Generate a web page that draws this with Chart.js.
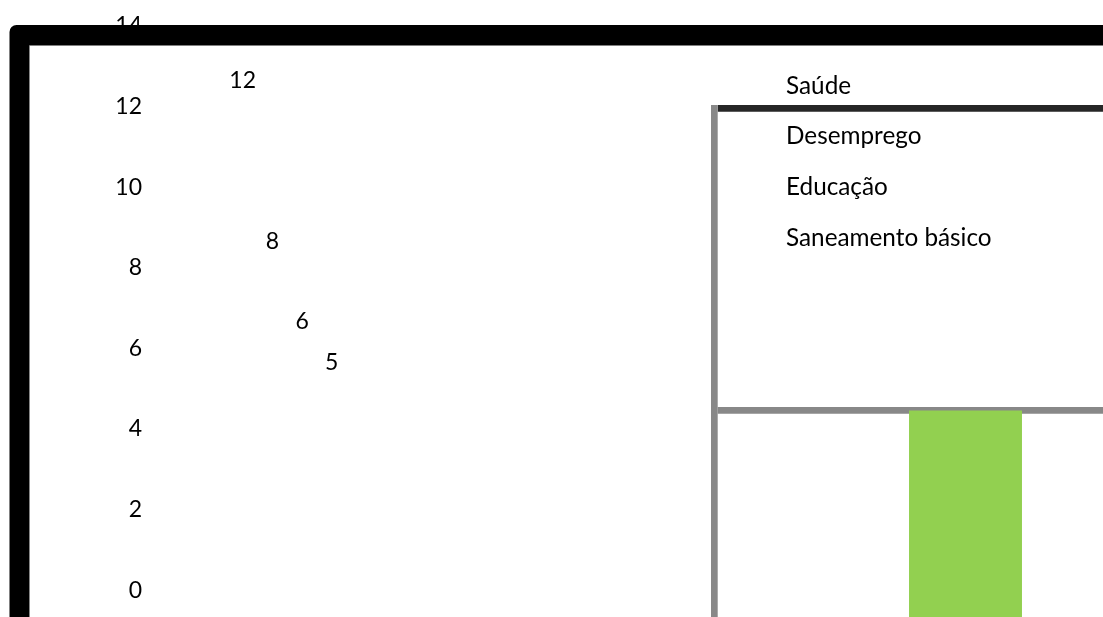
<!DOCTYPE html>
<html>
<head>
<meta charset="utf-8">
<script src="https://cdn.jsdelivr.net/npm/chart.js@4"></script>
<style>
    html, body { margin: 0; padding: 0; background: #fff; overflow: hidden; width: 1103px; height: 617px; }
    #main { position: absolute; left: 0; top: 0; }
    #side { position: absolute; left: 700px; top: 95px; }
</style>
</head>
<body>
<canvas id="main" width="1103" height="617"></canvas>
<canvas id="side" width="620" height="640"></canvas>
<script>
// data
const series = ['Saúde', 'Desemprego', 'Educação', 'Saneamento básico']
const values = [12, 8, 6, 5]
const yTicks = [0, 2, 4, 6, 8, 10, 12, 14]
const sideCategory = ['']
const sideValues = [1]

const FONT = 'Lato, "Open Sans", sans-serif'

// value labels above the (invisible) columns
const valueLabels = {
    id: 'valueLabels',
    afterDatasetsDraw(chart) {
        const ctx = chart.ctx
        ctx.save()
        ctx.font = '23px ' + FONT
        ctx.fillStyle = '#000'
        ctx.textAlign = 'center'
        ctx.textBaseline = 'alphabetic'
        chart.data.datasets.forEach((ds, i) => {
            chart.getDatasetMeta(i).data.forEach((bar, j) => {
                ctx.fillText(ds.data[j], bar.x, bar.y - 19)
            })
        })
        ctx.restore()
    }
}

// plain text legend, no swatches
const textLegend = {
    id: 'textLegend',
    afterDraw(chart) {
        const ctx = chart.ctx
        ctx.save()
        ctx.font = '24.3px ' + FONT
        ctx.fillStyle = '#000'
        ctx.textAlign = 'left'
        ctx.textBaseline = 'alphabetic'
        chart.data.datasets.forEach((ds, i) => {
            ctx.fillText(ds.label, 786, 93.5 + i * 50.8)
        })
        ctx.restore()
    }
}

// thick black rounded frame, drawn last so it covers the "14"
const frame = {
    id: 'frame',
    afterDraw(chart) {
        const ctx = chart.ctx
        ctx.save()
        ctx.beginPath()
        ctx.roundRect(9.5, 25, 1200, 700, 7)
        ctx.rect(29.5, 45.5, 1160, 660)
        ctx.fillStyle = '#000'
        ctx.fill('evenodd')
        ctx.strokeStyle = '#888'
        ctx.lineWidth = 1
        ctx.beginPath()
        ctx.moveTo(29.5, 45.5)
        ctx.lineTo(29.5, 617)
        ctx.stroke()
        ctx.restore()
    }
}

new Chart(document.getElementById('main'), {
    type: 'bar',
    data: {
        labels: ['Problemas'],
        datasets: series.map((name, i) => ({
            label: name,
            data: [values[i]],
            backgroundColor: 'rgba(0,0,0,0)',
            borderWidth: 0
        }))
    },
    options: {
        responsive: false,
        animation: false,
        layout: { padding: { left: 0, top: 26, right: 688.6, bottom: 26.7 } },
        datasets: { bar: { categoryPercentage: 0.467, barPercentage: 1 } },
        plugins: { legend: { display: false }, tooltip: { enabled: false } },
        scales: {
            x: { display: false },
            y: {
                min: 0,
                max: 14,
                afterBuildTicks(scale) {
                    scale.ticks = yTicks.map(v => ({ value: v }))
                },
                afterFit(scale) {
                    scale.width = 160
                },
                grid: { display: false },
                border: { display: false },
                ticks: {
                    padding: 10,
                    color: '#000',
                    font: { family: FONT, size: 23 }
                }
            }
        }
    },
    plugins: [valueLabels, textLegend, frame]
})

new Chart(document.getElementById('side'), {
    type: 'bar',
    data: {
        labels: sideCategory,
        datasets: [{
            label: 'Saneamento básico',
            data: sideValues,
            backgroundColor: '#92D050',
            borderWidth: 0
        }]
    },
    options: {
        responsive: false,
        animation: false,
        layout: { padding: { left: 14.5, top: 13.4, right: 103.5, bottom: 22.2 } },
        datasets: { bar: { categoryPercentage: 1, barPercentage: 0.225 } },
        plugins: { legend: { display: false }, tooltip: { enabled: false } },
        scales: {
            x: { display: false },
            y: {
                min: 0,
                max: 2,
                z: 1,
                ticks: { display: false, stepSize: 1 },
                grid: {
                    drawTicks: false,
                    lineWidth: 6.7,
                    color: ctx => ctx.tick && ctx.tick.value === 2 ? '#262626' : '#888888'
                },
                border: { display: true, color: '#888888', width: 6.7 }
            }
        }
    }
})
</script>
</body>
</html>
